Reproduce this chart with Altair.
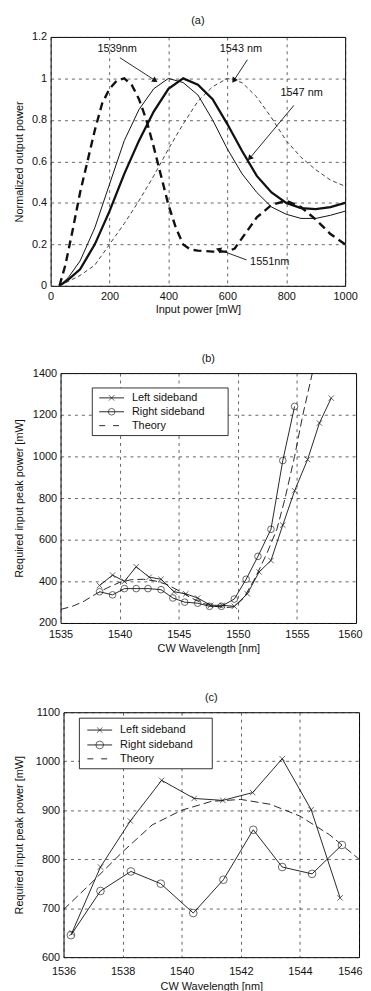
import math
import altair as alt
import pandas as pd

FONT = "Liberation Sans"
INK = "#111111"

# ---------------- panel (a) data ----------------
a_x_1539 = [30, 60, 100, 150, 200, 250, 300, 350, 400, 450, 500, 550, 600, 650, 700, 750, 800, 850, 900, 950, 1000]
a_y_1539 = [0, 0.04, 0.12, 0.28, 0.49, 0.70, 0.85, 0.95, 1.0, 0.98, 0.92, 0.80, 0.66, 0.54, 0.45, 0.38, 0.345, 0.325, 0.325, 0.34, 0.36]

a_x_1547 = [30, 60, 100, 150, 200, 250, 300, 350, 400, 450, 500, 550, 600, 650, 700, 750, 800, 850, 900, 950, 1000]
a_y_1547 = [0, 0.03, 0.08, 0.20, 0.36, 0.54, 0.70, 0.84, 0.95, 1.0, 0.97, 0.90, 0.78, 0.65, 0.53, 0.45, 0.40, 0.375, 0.37, 0.38, 0.40]

a_x_1543 = [30, 100, 150, 200, 250, 300, 350, 400, 450, 500, 550, 600, 650, 700, 750, 800, 850, 900, 950, 1000]
a_y_1543 = [0, 0.05, 0.10, 0.20, 0.30, 0.41, 0.53, 0.66, 0.78, 0.89, 0.96, 1.0, 0.98, 0.91, 0.81, 0.70, 0.62, 0.56, 0.51, 0.48]

a_x_1551 = [30, 50, 75, 100, 125, 150, 175, 200, 225, 250, 275, 300, 325, 350, 375, 400, 425, 450, 475, 500, 550, 600, 625, 650, 700, 750, 800, 850, 900, 950, 1000]
a_y_1551 = [0, 0.10, 0.27, 0.45, 0.60, 0.75, 0.88, 0.95, 0.99, 1.0, 0.97, 0.90, 0.80, 0.67, 0.53, 0.39, 0.28, 0.20, 0.175, 0.17, 0.165, 0.165, 0.18, 0.23, 0.33, 0.39, 0.41, 0.38, 0.32, 0.25, 0.20]

a_labels = ["1539nm", "1543 nm", "1547 nm", "1551nm"]
a_label_x = [226, 646, 852, 744]
a_label_y = [1.14, 1.14, 0.93, 0.115]
a_arrow_x1 = [235, 668, 826, 665]
a_arrow_y1 = [1.10, 1.09, 0.87, 0.125]
a_arrow_x2 = [355, 622, 676, 570]
a_arrow_y2 = [0.99, 0.99, 0.615, 0.175]

# ---------------- panel (b) data ----------------
b_left_x = [1538.3, 1539.4, 1540.4, 1541.4, 1542.5, 1543.5, 1544.6, 1545.6, 1546.6, 1547.7, 1548.7, 1549.7, 1550.8, 1551.8, 1552.8, 1553.8, 1554.8, 1555.9, 1556.9, 1557.9]
b_left_y = [380, 430, 400, 470, 420, 410, 350, 340, 320, 285, 285, 280, 340, 445, 500, 670, 835, 985, 1160, 1280]
b_right_x = [1538.3, 1539.4, 1540.4, 1541.4, 1542.4, 1543.5, 1544.5, 1545.5, 1546.6, 1547.6, 1548.6, 1549.7, 1550.7, 1551.7, 1552.8, 1553.8, 1554.8]
b_right_y = [350, 335, 365, 365, 365, 360, 320, 300, 295, 280, 280, 315, 410, 520, 650, 980, 1240]
b_theory_x = [1535, 1536, 1537, 1538, 1539, 1540, 1541, 1542, 1543, 1544, 1545, 1546, 1547, 1548, 1549, 1549.7, 1550.5, 1551.5, 1552.5, 1553.3, 1554, 1554.8, 1555.5, 1556.3]
b_theory_y = [265, 280, 305, 340, 370, 395, 408, 410, 402, 385, 355, 322, 295, 280, 274, 278, 320, 420, 540, 650, 800, 1000, 1200, 1400]

# ---------------- panel (c) data ----------------
c_left_x = [1536.28, 1537.25, 1538.26, 1539.32, 1540.42, 1541.39, 1542.4, 1543.4, 1544.38, 1545.36]
c_left_y = [649, 784, 878, 961, 924, 920, 936, 1005, 901, 721]
c_right_x = [1536.25, 1537.25, 1538.28, 1539.29, 1540.39, 1541.41, 1542.42, 1543.4, 1544.41, 1545.42]
c_right_y = [645, 735, 775, 750, 690, 758, 860, 784, 770, 829]
c_theory_x = [1536, 1537, 1538, 1539, 1540, 1541, 1542, 1543, 1544, 1545, 1546]
c_theory_y = [697, 755, 815, 870, 900, 918, 922, 912, 888, 850, 800]

legend_labels = ["Left sideband", "Right sideband", "Theory"]
panel_titles = ["(a)", "(b)", "(c)"]

XPATH = "M-1,-1L1,1M-1,1L1,-1"

AXIS_STYLE = dict(
    labelFont=FONT, titleFont=FONT, labelFontSize=11, titleFontSize=11,
    titleFontWeight="normal", labelColor=INK, titleColor=INK,
    ticks=False, domain=False, grid=True, gridColor="#222222",
    gridDash=[3, 4], gridWidth=0.7, gridOpacity=1,
)


def df(xs, ys):
    return pd.DataFrame({"x": xs, "y": ys})


def enc(xd, yd, xt, yt, xvals, yvals, xfmt, yfmt, ext, xlp, xtp, last_shift=None):
    xaxis = dict(values=xvals, format=xfmt, labelFlush=False, labelPadding=xlp,
                 titlePadding=xtp, **AXIS_STYLE)
    if last_shift is not None:
        test = "datum.value == %s" % xvals[-1]
        xaxis["labelAlign"] = {"condition": {"test": test, "value": "right"}, "value": "center"}
        xaxis["labelOffset"] = {"condition": {"test": test, "value": last_shift}, "value": 0}
    x = alt.X("x:Q", title=xt,
              scale=alt.Scale(domain=xd, nice=False, zero=False),
              axis=alt.Axis(**xaxis))
    y = alt.Y("y:Q", title=yt,
              scale=alt.Scale(domain=yd, nice=False, zero=False),
              axis=alt.Axis(values=yvals, format=yfmt, labelPadding=4, titlePadding=2,
                            minExtent=ext, maxExtent=ext, **AXIS_STYLE))
    return x, y


def line(data, X, Y, width=1.0, dash=None):
    kw = dict(color=INK, strokeWidth=width, clip=True)
    if dash:
        kw["strokeDash"] = dash
    return alt.Chart(data).mark_line(**kw).encode(x=X, y=Y)


def legend(x0, y0, x1, y1, rows, lx0, lx1, tx, msize_x, msize_o):
    layers = [alt.Chart(pd.DataFrame({"k": [0]})).mark_rect(
        fill="white", stroke="black", strokeWidth=0.8).encode(
        x=alt.value(x0), x2=alt.value(x1), y=alt.value(y0), y2=alt.value(y1))]
    mid = (lx0 + lx1) / 2
    for i, lab in enumerate(legend_labels):
        d = pd.DataFrame({"label": [lab]})
        kw = dict(color=INK, strokeWidth=0.9)
        if i == 2:
            kw["strokeDash"] = [6, 8]
        layers.append(alt.Chart(d).mark_rule(**kw).encode(
            x=alt.value(lx0), x2=alt.value(lx1), y=alt.value(rows[i])))
        if i == 0:
            layers.append(alt.Chart(d).mark_point(shape=XPATH, size=msize_x, color=INK,
                                                  strokeWidth=0.9).encode(
                x=alt.value(mid), y=alt.value(rows[i])))
        if i == 1:
            layers.append(alt.Chart(d).mark_point(shape="circle", size=msize_o, color=INK,
                                                  filled=False, strokeWidth=0.9).encode(
                x=alt.value(mid), y=alt.value(rows[i])))
        layers.append(alt.Chart(d).mark_text(align="left", baseline="middle", font=FONT,
                                             fontSize=11, color=INK).encode(
            x=alt.value(tx), y=alt.value(rows[i]), text="label:N"))
    return layers


def heading(idx, width, dy):
    return alt.Chart(pd.DataFrame({"t": [panel_titles[idx]]})).mark_text(
        font=FONT, fontSize=11, color=INK, baseline="middle", align="center"
    ).encode(x=alt.value(width / 2), y=alt.value(-dy), text="t:N")


def spacer():
    return alt.Chart(pd.DataFrame({"k": [0]})).mark_point(opacity=0, size=0).encode(
        x=alt.value(0), y=alt.value(0)
    ).properties(width=1, height=1, view=alt.ViewBackground(stroke="transparent"))


# ---------------- panel (a) ----------------
Xa, Ya = enc([0, 1000], [0, 1.2], "Input power [mW]", "Normalized output power",
             [0, 200, 400, 600, 800, 1000], [0, 0.2, 0.4, 0.6, 0.8, 1.0, 1.2], "d", "~g", 24, 5, 2)

sx_a = 297 / 1000.0
sy_a = 251 / 1.2
ann = pd.DataFrame({
    "x": a_arrow_x1, "y": a_arrow_y1, "x2": a_arrow_x2, "y2": a_arrow_y2,
})
ann["ang"] = [
    (math.degrees(math.atan2((x2 - x1) * sx_a, (y2 - y1) * sy_a)) + 360) % 360
    for x1, y1, x2, y2 in zip(a_arrow_x1, a_arrow_y1, a_arrow_x2, a_arrow_y2)
]
ann_tip = pd.DataFrame({"x": a_arrow_x2, "y": a_arrow_y2, "ang": ann["ang"]})
lab = pd.DataFrame({"x": a_label_x, "y": a_label_y, "t": a_labels})

panel_a = alt.layer(
    line(df(a_x_1543, a_y_1543), Xa, Ya, 0.8, [4, 3]),
    line(df(a_x_1551, a_y_1551), Xa, Ya, 2.4, [8, 5]),
    line(df(a_x_1539, a_y_1539), Xa, Ya, 1.0),
    line(df(a_x_1547, a_y_1547), Xa, Ya, 2.3),
    alt.Chart(ann).mark_rule(color=INK, strokeWidth=0.9).encode(x=Xa, y=Ya, x2="x2:Q", y2="y2:Q"),
    alt.Chart(ann_tip).mark_point(shape="triangle-up", filled=True, color=INK, size=40,
                                  opacity=1).encode(
        x=Xa, y=Ya, angle=alt.Angle("ang:Q", scale=None)),
    alt.Chart(lab).mark_text(font=FONT, fontSize=11, color=INK).encode(x=Xa, y=Ya, text="t:N"),
    heading(0, 297, 16),
).properties(width=297, height=251)

# ---------------- panel (b) ----------------
Xb, Yb = enc([1535, 1560], [200, 1400], "CW Wavelength [nm]", "Required input peak power [mW]",
             [1535, 1540, 1545, 1550, 1555, 1560], [200, 400, 600, 800, 1000, 1200, 1400], "d", "d",
             34, 6, 3, last_shift=6)

panel_b = alt.layer(
    line(df(b_theory_x, b_theory_y), Xb, Yb, 0.9, [8, 4]),
    line(df(b_left_x, b_left_y), Xb, Yb, 0.9),
    line(df(b_right_x, b_right_y), Xb, Yb, 0.9),
    alt.Chart(df(b_left_x, b_left_y)).mark_point(shape=XPATH, size=30, color=INK,
                                                 strokeWidth=0.9).encode(x=Xb, y=Yb),
    alt.Chart(df(b_right_x, b_right_y)).mark_point(shape="circle", size=45, color=INK,
                                                   filled=False, strokeWidth=0.9).encode(x=Xb, y=Yb),
    *legend(32, 15, 169, 63, [25, 39, 53], 39, 64, 72, 30, 45),
    heading(1, 298, 14),
).properties(width=298, height=252)

# ---------------- panel (c) ----------------
Xc, Yc = enc([1536, 1546], [600, 1100], "CW Wavelength [nm]", "Required input peak power [mW]",
             [1536, 1538, 1540, 1542, 1544, 1546], [600, 700, 800, 900, 1000, 1100], "d", "d",
             37, 8, 5, last_shift=3)

panel_c = alt.layer(
    line(df(c_theory_x, c_theory_y), Xc, Yc, 0.9, [8, 4]),
    line(df(c_left_x, c_left_y), Xc, Yc, 0.9),
    line(df(c_right_x, c_right_y), Xc, Yc, 0.9),
    alt.Chart(df(c_left_x, c_left_y)).mark_point(shape=XPATH, size=30, color=INK,
                                                 strokeWidth=0.9).encode(x=Xc, y=Yc),
    alt.Chart(df(c_right_x, c_right_y)).mark_point(shape="circle", size=60, color=INK,
                                                   filled=False, strokeWidth=0.9).encode(x=Xc, y=Yc),
    *legend(16, 6, 150, 57, [18, 33, 47], 24, 49, 57, 30, 60),
    heading(2, 298, 14),
).properties(width=298, height=247)

chart = alt.vconcat(
    alt.hconcat(spacer(), panel_a, spacing=0),
    alt.hconcat(spacer(), panel_b, spacing=0),
    alt.hconcat(spacer(), panel_c, spacing=0),
    spacing=37,
).properties(
    padding={"left": 2, "top": 2, "right": 0, "bottom": 0}, background="white"
).configure_view(stroke="black", strokeWidth=1)

chart.save("out.html", embed_options={"renderer": "svg", "actions": False})
